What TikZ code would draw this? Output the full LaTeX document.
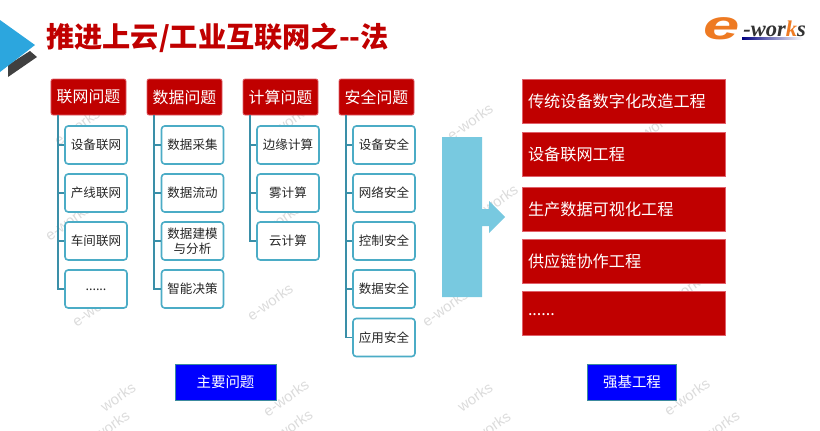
\documentclass[tikz,border=0pt]{standalone}
\usepackage{fontspec}
\setmainfont{Noto Sans CJK SC}
\newfontfamily\logofont{Liberation Serif}
\newfontfamily\markfont{Liberation Sans}
\usepackage{xcolor}
\usetikzlibrary{positioning,calc}

\definecolor{titlered}{HTML}{C00000}
\definecolor{edgered}{HTML}{E0606A}
\definecolor{tealline}{HTML}{4BACC6}
\definecolor{trunkteal}{HTML}{3A8FA8}
\definecolor{arrowblue}{HTML}{78C9E0}
\definecolor{cornerblue}{HTML}{2CA6DE}
\definecolor{logoorange}{HTML}{EE7A22}

\tikzset{
    headbox/.style={draw=edgered, fill=titlered, text=white, line width=0.2mm, rounded corners=0.5mm,
        minimum width=18.75mm, minimum height=9mm, inner sep=0pt, font=\fontsize{11.3}{13}\selectfont},
    itembox/.style={draw=tealline, fill=white, text=black!85, line width=0.4mm, rounded corners=0.8mm,
        minimum width=15.5mm, minimum height=9.5mm, inner sep=0pt, align=center,
        font=\fontsize{8.9}{11}\selectfont},
    trunk/.style={draw=trunkteal, line width=0.45mm},
    workbox/.style={draw=edgered, fill=titlered, text=white, line width=0.2mm, align=left,
        minimum width=50.75mm, minimum height=11mm, inner ysep=0pt, inner xsep=1.5mm, text width=47.75mm,
        font=\fontsize{11.5}{14}\selectfont},
    tagbox/.style={draw=tealline!80!black, fill=blue, text=white, line width=0.25mm,
        minimum height=9mm, inner sep=0pt, font=\fontsize{10.3}{12}\selectfont},
    wmark/.style={text=black!14, rotate=35, inner sep=0pt, font=\markfont\fontsize{10.5}{12}\selectfont}
}

\begin{document}
\begin{tikzpicture}[x=0.25mm, y=-0.25mm]
    \clip (0,0) rectangle (820,430);

    % Watermarks
    \node[wmark] (mark1) at (77,127) {e-works};
    \node[wmark] (mark2) at (287,123) {e-works};
    \node[wmark] (mark3) at (470,122) {e-works};
    \node[wmark] (mark4) at (653,128) {e-works};
    \node[wmark] (mark5) at (68,222) {e-works};
    \node[wmark] (mark6) at (278,222) {e-works};
    \node[wmark] (mark7) at (495,203) {e-works};
    \node[wmark] (mark8) at (95,308) {e-works};
    \node[wmark] (mark9) at (270,302) {e-works};
    \node[wmark] (mark10) at (445,308) {e-works};
    \node[wmark] (mark11) at (683,292) {e-works};
    \node[wmark] (mark12) at (118,397) {works};
    \node[wmark] (mark13) at (286,398) {e-works};
    \node[wmark] (mark14) at (475,397) {works};
    \node[wmark] (mark15) at (687,397) {e-works};
    \node[wmark] (mark16) at (112,425) {works};
    \node[wmark] (mark17) at (295,424) {works};
    \node[wmark] (mark18) at (493,426) {works};
    \node[wmark] (mark19) at (722,425) {works};

    % Corner mark
    \fill[black!75] (8,77) -- (37,57) -- (30,51) -- (8,65) -- cycle;
    \fill[cornerblue] (0,20) -- (35,45) -- (0,72) -- cycle;

    % Title
    \node[anchor=west, text=titlered, inner sep=0pt, font=\fontsize{20.05}{22}\selectfont\bfseries] (title) at (46,38) {推进上云/工业互联网之{-}{-}法};

    % Logo
    \node[text=logoorange, inner sep=0pt, xscale=1.6, font=\markfont\bfseries\itshape\fontsize{29}{29}\selectfont] (logoe) at (722,29) {e};
    \node[anchor=west, text=black!80, inner sep=0pt, font=\logofont\bfseries\itshape\fontsize{16}{18}\selectfont] (logotext) at (743,29) {-wor\textcolor{logoorange}{k}s};
    \fill[left color=blue!50!black, right color=white] (742,37) rectangle (803,39.5);

    % Networking column
    \node[headbox] (headnet) at (88.5,97) {联网问题};
    \node[itembox] (net1) at (96,145) {设备联网};
    \node[itembox] (net2) at (96,193) {产线联网};
    \node[itembox] (net3) at (96,241) {车间联网};
    \node[itembox] (net4) at (96,289) {\raisebox{-1mm}{......}};
    \draw[trunk] ([xshift=1.75mm]headnet.south west) |- (net1.west);
    \draw[trunk] ([xshift=1.75mm]headnet.south west) |- (net2.west);
    \draw[trunk] ([xshift=1.75mm]headnet.south west) |- (net3.west);
    \draw[trunk] ([xshift=1.75mm]headnet.south west) |- (net4.west);

    % Data column
    \node[headbox] (headdata) at (184.5,97) {数据问题};
    \node[itembox] (data1) at (192.5,145) {数据采集};
    \node[itembox] (data2) at (192.5,193) {数据流动};
    \node[itembox] (data3) at (192.5,241) {数据建模\\与分析};
    \node[itembox] (data4) at (192.5,289) {智能决策};
    \draw[trunk] ([xshift=1.75mm]headdata.south west) |- (data1.west);
    \draw[trunk] ([xshift=1.75mm]headdata.south west) |- (data2.west);
    \draw[trunk] ([xshift=1.75mm]headdata.south west) |- (data3.west);
    \draw[trunk] ([xshift=1.75mm]headdata.south west) |- (data4.west);

    % Computing column
    \node[headbox] (headcalc) at (280.5,97) {计算问题};
    \node[itembox] (calc1) at (288,145) {边缘计算};
    \node[itembox] (calc2) at (288,193) {雾计算};
    \node[itembox] (calc3) at (288,241) {云计算};
    \draw[trunk] ([xshift=1.75mm]headcalc.south west) |- (calc1.west);
    \draw[trunk] ([xshift=1.75mm]headcalc.south west) |- (calc2.west);
    \draw[trunk] ([xshift=1.75mm]headcalc.south west) |- (calc3.west);

    % Security column
    \node[headbox] (headsafe) at (376.5,97) {安全问题};
    \node[itembox] (safe1) at (384,145) {设备安全};
    \node[itembox] (safe2) at (384,193) {网络安全};
    \node[itembox] (safe3) at (384,241) {控制安全};
    \node[itembox] (safe4) at (384,289) {数据安全};
    \node[itembox] (safe5) at (384,337.5) {应用安全};
    \draw[trunk] ([xshift=1.75mm]headsafe.south west) |- (safe1.west);
    \draw[trunk] ([xshift=1.75mm]headsafe.south west) |- (safe2.west);
    \draw[trunk] ([xshift=1.75mm]headsafe.south west) |- (safe3.west);
    \draw[trunk] ([xshift=1.75mm]headsafe.south west) |- (safe4.west);
    \draw[trunk] ([xshift=1.75mm]headsafe.south west) |- (safe5.west);

    % Big arrow
    \fill[arrowblue] (442,137) -- (482,137) -- (482,209) -- (489,209) -- (489,201) -- (505,217)
        -- (489,233) -- (489,226) -- (482,226) -- (482,297) -- (442,297) -- cycle;

    % Projects
    \node[workbox] (work1) at (623.5,101) {传统设备数字化改造工程};
    \node[workbox] (work2) at (623.5,154) {设备联网工程};
    \node[workbox] (work3) at (623.5,209) {生产数据可视化工程};
    \node[workbox] (work4) at (623.5,261) {供应链协作工程};
    \node[workbox] (work5) at (623.5,313) {\raisebox{-1.5mm}{......}};

    % Captions
    \node[tagbox, minimum width=25.25mm] (tagleft) at (225.5,382) {主要问题};
    \node[tagbox, minimum width=22.25mm] (tagright) at (632,382) {强基工程};
\end{tikzpicture}
\end{document}
